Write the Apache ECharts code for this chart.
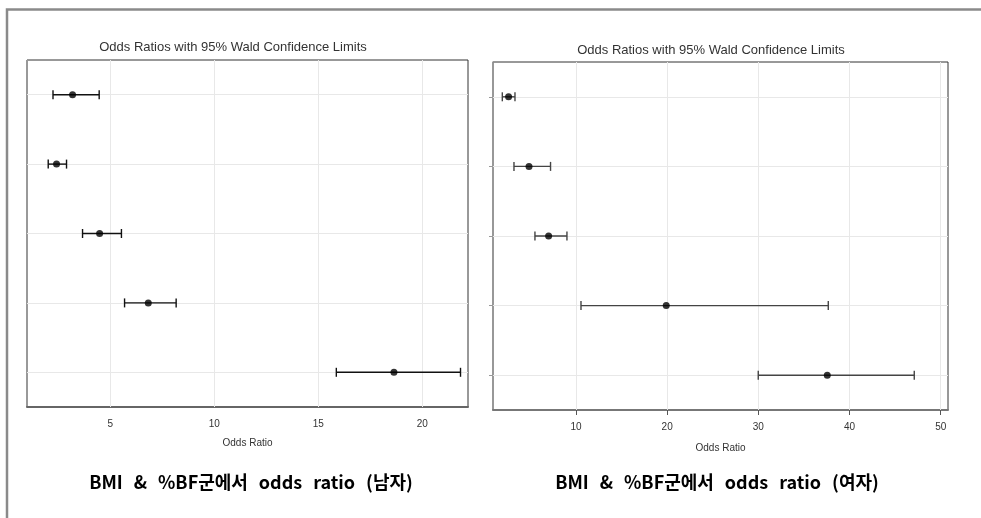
<!DOCTYPE html>
<html>
<head>
<meta charset="utf-8">
<script src="https://cdn.jsdelivr.net/npm/echarts@6/dist/echarts.min.js"></script>
<style>
  html, body { margin: 0; padding: 0; background: #fff; }
  #chart { width: 981px; height: 518px; }
</style>
</head>
<body>
<div id="chart"></div>
<script>
// Rows of the forest plot (top to bottom)
const categories = ['G1', 'G2', 'G3', 'G4', 'G5'];

// Men: odds ratio with 95% Wald confidence limits
const maleOR    = [3.19, 2.42, 4.49, 6.83, 18.64];
const maleLower = [2.25, 2.02, 3.67, 5.69, 15.87];
const maleUpper = [4.47, 2.90, 5.54, 8.17, 21.84];

// Women: odds ratio with 95% Wald confidence limits
const femaleOR    = [2.61, 4.85, 7.00, 19.90, 37.56];
const femaleLower = [1.92, 3.20, 5.50, 10.55, 29.99];
const femaleUpper = [3.31, 7.21, 9.01, 37.67, 47.10];

// Axis tick labels
const maleTicks = [5, 10, 15, 20];
const femaleTicks = [10, 20, 30, 40, 50];

const plotTitle = 'Odds Ratios with 95% Wald Confidence Limits';
const axisTitle = 'Odds Ratio';
const captions = ['BMI & %BF군에서 odds ratio (남자)', 'BMI & %BF군에서 odds ratio (여자)'];

const chart = echarts.init(document.getElementById('chart'), null, { renderer: 'canvas' });

function errorBarRenderer(color) {
  return function (params, api) {
    const cat = api.value(0);
    const lo = api.coord([api.value(1), cat]);
    const hi = api.coord([api.value(2), cat]);
    const h = 4.5;
    const style = { stroke: color, lineWidth: 1.4 };
    return {
      type: 'group',
      children: [
        { type: 'line', shape: { x1: lo[0], y1: lo[1], x2: hi[0], y2: hi[1] }, style },
        { type: 'line', shape: { x1: lo[0], y1: lo[1] - h, x2: lo[0], y2: lo[1] + h }, style },
        { type: 'line', shape: { x1: hi[0], y1: hi[1] - h, x2: hi[0], y2: hi[1] + h }, style }
      ]
    };
  };
}

function gridSeries(idx, ticks) {
  const lineStyle = { color: '#e8e8e8', width: 1, type: 'solid' };
  return {
    type: 'line',
    xAxisIndex: idx, yAxisIndex: idx,
    data: [],
    z: 1,
    silent: true,
    animation: false,
    markLine: {
      silent: true,
      symbol: ['none', 'none'],
      label: { show: false },
      lineStyle,
      emphasis: { disabled: true },
      animation: false,
      data: ticks.map(v => ({ xAxis: v })).concat(categories.map(c => ({ yAxis: c })))
    }
  };
}

// Caption words separated by wide word gaps (rich-text spacer fragments)
function captionText(str) {
  return str.split(' ').map(w => '{w|' + w + '}').join('{s| }');
}
const captionRich = {
  w: { fontSize: 18, fontWeight: 'bold', fontFamily: '"Noto Sans CJK KR", sans-serif', color: '#111' },
  s: { fontSize: 18, width: 11, fontFamily: '"Noto Sans CJK KR", sans-serif' }
};

const tickFont = { color: '#333', fontSize: 10, fontFamily: 'Liberation Sans, Arial, sans-serif' };
const nameFont = { color: '#333', fontSize: 10, fontFamily: 'Liberation Sans, Arial, sans-serif' };

const option = {
  animation: false,
  backgroundColor: '#fff',
  grid: [
    { left: 27, top: 60, width: 441, height: 347, show: true, borderColor: '#333', borderWidth: 1, backgroundColor: 'transparent' },
    { left: 493, top: 62, width: 455, height: 348, show: true, borderColor: '#333', borderWidth: 1, backgroundColor: 'transparent' }
  ],
  xAxis: [
    {
      type: 'value', gridIndex: 0, min: 1, max: 22.2,
      axisLine: { show: true, lineStyle: { color: '#666', width: 2 } },
      axisTick: { show: false, customValues: maleTicks },
      axisLabel: { ...tickFont, margin: 12, customValues: maleTicks },
      splitLine: { show: false },
      name: axisTitle, nameLocation: 'middle', nameGap: 31, nameTextStyle: nameFont
    },
    {
      type: 'value', gridIndex: 1, min: 0.9, max: 50.8,
      axisLine: { show: true, lineStyle: { color: '#777', width: 2 } },
      axisTick: { show: true, length: 5, customValues: femaleTicks, lineStyle: { color: '#555', width: 1 } },
      axisLabel: { ...tickFont, margin: 12, customValues: femaleTicks },
      splitLine: { show: false },
      name: axisTitle, nameLocation: 'middle', nameGap: 33, nameTextStyle: nameFont
    }
  ],
  yAxis: [
    {
      type: 'category', gridIndex: 0, data: categories, inverse: true,
      axisLine: { show: true, lineStyle: { color: '#999', width: 1 } },
      axisTick: { show: false },
      axisLabel: { show: false },
      splitLine: { show: false }
    },
    {
      type: 'category', gridIndex: 1, data: categories, inverse: true,
      axisLine: { show: true, lineStyle: { color: '#999', width: 1.5 } },
      axisTick: { show: true, alignWithLabel: true, length: 4, lineStyle: { color: '#999', width: 1 } },
      axisLabel: { show: false },
      splitLine: { show: false }
    }
  ],
  series: [
    gridSeries(0, maleTicks),
    gridSeries(1, femaleTicks),
    {
      type: 'custom', xAxisIndex: 0, yAxisIndex: 0, z: 5,
      renderItem: errorBarRenderer('#111'),
      encode: { x: [1, 2], y: 0 },
      data: categories.map((c, i) => [i, maleLower[i], maleUpper[i]])
    },
    {
      type: 'custom', xAxisIndex: 1, yAxisIndex: 1, z: 5,
      renderItem: errorBarRenderer('#444'),
      encode: { x: [1, 2], y: 0 },
      data: categories.map((c, i) => [i, femaleLower[i], femaleUpper[i]])
    },
    {
      type: 'scatter', xAxisIndex: 0, yAxisIndex: 0, z: 6,
      symbol: 'circle', symbolSize: 7,
      itemStyle: { color: '#000' },
      data: categories.map((c, i) => [maleOR[i], c])
    },
    {
      type: 'scatter', xAxisIndex: 1, yAxisIndex: 1, z: 6,
      symbol: 'circle', symbolSize: 7,
      itemStyle: { color: '#000' },
      data: categories.map((c, i) => [femaleOR[i], c])
    }
  ],
  graphic: [
    {
      type: 'polyline', z: 100, silent: true,
      shape: { points: [[7, 518], [7, 9.5], [981, 9.5]] },
      style: { stroke: '#8a8a8a', lineWidth: 2.5, fill: null }
    },
    {
      type: 'text', x: 233, y: 47, silent: true,
      style: { text: plotTitle, fill: '#333', font: '13px "Liberation Sans", Arial, sans-serif', textAlign: 'center', textVerticalAlign: 'middle' }
    },
    {
      type: 'text', x: 711, y: 50, silent: true,
      style: { text: plotTitle, fill: '#333', font: '13px "Liberation Sans", Arial, sans-serif', textAlign: 'center', textVerticalAlign: 'middle' }
    },
    {
      type: 'text', x: 251, y: 482, silent: true,
      style: { text: captionText(captions[0]), rich: captionRich, textAlign: 'center', textVerticalAlign: 'middle' }
    },
    {
      type: 'text', x: 717, y: 482, silent: true,
      style: { text: captionText(captions[1]), rich: captionRich, textAlign: 'center', textVerticalAlign: 'middle' }
    }
  ]
};

chart.setOption(option);
</script>
</body>
</html>
